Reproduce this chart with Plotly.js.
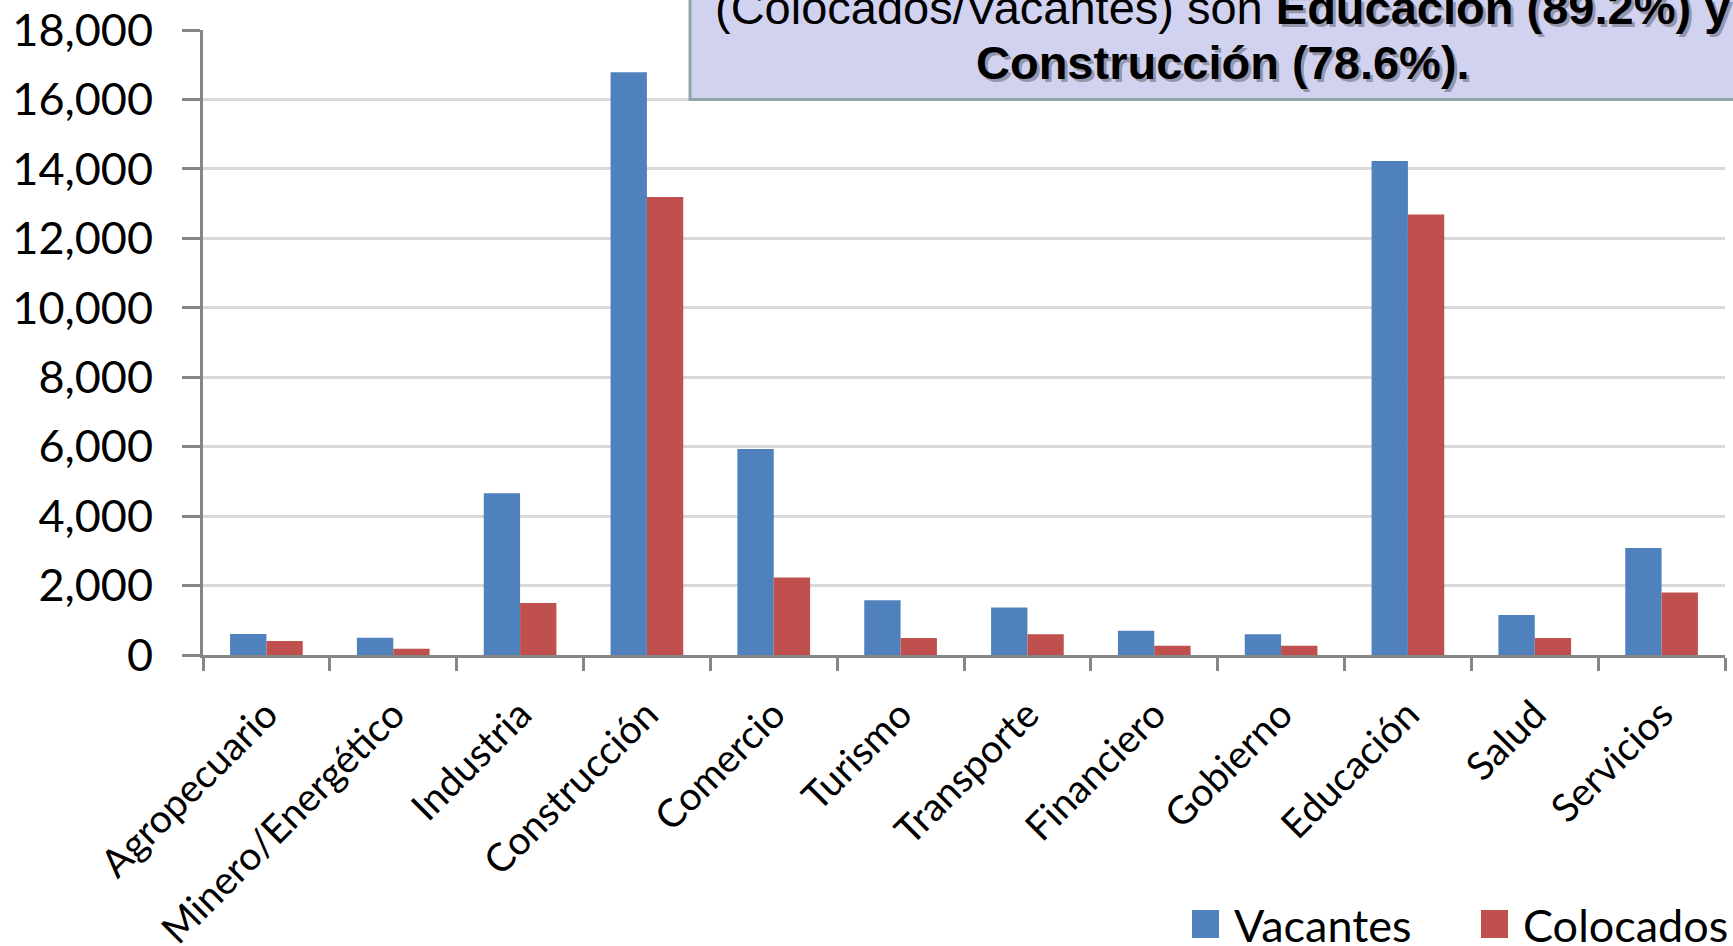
<!DOCTYPE html>
<html>
<head>
<meta charset="utf-8">
<script src="https://cdn.plot.ly/plotly-3.0.1.min.js"></script>
<style>
html,body{margin:0;padding:0;background:#fff;overflow:hidden;}
#chart{width:1733px;height:946px;}
</style>
</head>
<body>
<div id="chart"></div>
<script>
const categories = ["Agropecuario","Minero/Energético","Industria","Construcción","Comercio","Turismo","Transporte","Financiero","Gobierno","Educación","Salud","Servicios"];
const vacantes  = [605, 500, 4660, 16780, 5930, 1580, 1370, 700, 600, 14230, 1150, 3080];
const colocados = [400, 180, 1500, 13190, 2230, 490, 600, 270, 270, 12690, 490, 1800];
const seriesNames = ["Vacantes","Colocados"];
const seriesColors = ["#4F81BD","#C0504D"];
const noteLine1Plain = "(Colocados/Vacantes) son ";
const noteLine1Bold = "Educación (89.2%) y";
const noteLine2Bold = "Construcción (78.6%).";

const W = 1733, H = 946;
const mL = 203, mR = 8, mT = 30, mB = 291;
const plotW = W - mL - mR, plotH = H - mT - mB;
// pixel -> paper helpers (for layout elements only)
const px = v => (v - mL) / plotW;
const py = v => (H - mB - v) / plotH;

const traces = [
  {type:"bar", name:seriesNames[0], x:categories, y:vacantes,
   marker:{color:seriesColors[0], line:{width:0}}, showlegend:false},
  {type:"bar", name:seriesNames[1], x:categories, y:colocados,
   marker:{color:seriesColors[1], line:{width:0}}, showlegend:false}
];

const boxFont = {family:"Liberation Sans, Arial, sans-serif", size:47, color:"#000"};
const shadowFont = {family:"Liberation Sans, Arial, sans-serif", size:47, color:"rgba(0,0,0,0.3)"};
const cx = 0.67;
const y2 = 0.948, y1 = 1.036;
const tr = '<span style="color:rgba(0,0,0,0)">';

// legend (drawn as swatches + labels, large squares as in the reference)
const legSwatchX = [1192, 1481];
const legTextX = [1232, 1521];
const legY0 = 910, legY1 = 938, legMid = 925;
const legendShapes = seriesNames.map((n, i) => ({
  type:"rect", xref:"paper", yref:"paper",
  x0:px(legSwatchX[i]), x1:px(legSwatchX[i] + 27), y0:py(legY1), y1:py(legY0),
  fillcolor:seriesColors[i], line:{width:0}
}));
const legendAnns = seriesNames.map((n, i) => ({
  xref:"paper", yref:"paper", x:px(legTextX[i]), y:py(legMid),
  xanchor:"left", yanchor:"middle", showarrow:false, text:n,
  font:{family:"Lato, sans-serif", size:45, color:"#000"}
}));

const layout = {
  width:W, height:H,
  margin:{l:mL, r:mR, t:mT, b:mB, autoexpand:false},
  paper_bgcolor:"#fff", plot_bgcolor:"#fff",
  barmode:"group", bargap:0.427, bargroupgap:0,
  font:{family:"Lato, sans-serif", color:"#000"},
  showlegend:false,
  xaxis:{
    type:"category", automargin:false,
    tickangle:-45, tickfont:{family:"Lato, sans-serif", size:39, color:"#000"},
    ticks:"outside", tickson:"boundaries", ticklen:13, tickwidth:3, tickcolor:"#868686",
    showline:true, linecolor:"#868686", linewidth:3,
    showgrid:false, ticklabelstandoff:18
  },
  yaxis:{
    range:[0,18000], dtick:2000, tickformat:",d", automargin:false,
    tickfont:{family:"Lato, sans-serif", size:45, color:"#000"},
    ticks:"outside", ticklen:18, tickwidth:3, tickcolor:"#868686",
    showline:true, linecolor:"#868686", linewidth:3,
    showgrid:true, gridcolor:"#D9D9D9", gridwidth:3,
    zeroline:false, ticklabelstandoff:20
  },
  shapes:[
    {type:"rect", xref:"paper", yref:"paper", x0:0.32, x1:1.03, y0:0.889, y1:1.2,
     fillcolor:"#D1D2EF", line:{color:"#8CA6A8", width:3}, layer:"above"}
  ].concat(legendShapes),
  annotations:[
    {xref:"paper", yref:"paper", x:cx, y:y1, xanchor:"center", yanchor:"middle", showarrow:false,
     text: tr + noteLine1Plain + "</span><b>" + noteLine1Bold + "</b>", font:shadowFont, xshift:3, yshift:-3},
    {xref:"paper", yref:"paper", x:cx, y:y1, xanchor:"center", yanchor:"middle", showarrow:false,
     text: noteLine1Plain + "<b>" + noteLine1Bold + "</b>", font:boxFont},
    {xref:"paper", yref:"paper", x:cx, y:y2, xanchor:"center", yanchor:"middle", showarrow:false,
     text: "<b>" + noteLine2Bold + "</b>", font:shadowFont, xshift:3, yshift:-3},
    {xref:"paper", yref:"paper", x:cx, y:y2, xanchor:"center", yanchor:"middle", showarrow:false,
     text: "<b>" + noteLine2Bold + "</b>", font:boxFont}
  ].concat(legendAnns)
};

Plotly.newPlot("chart", traces, layout, {displayModeBar:false, staticPlot:true});
</script>
</body>
</html>
